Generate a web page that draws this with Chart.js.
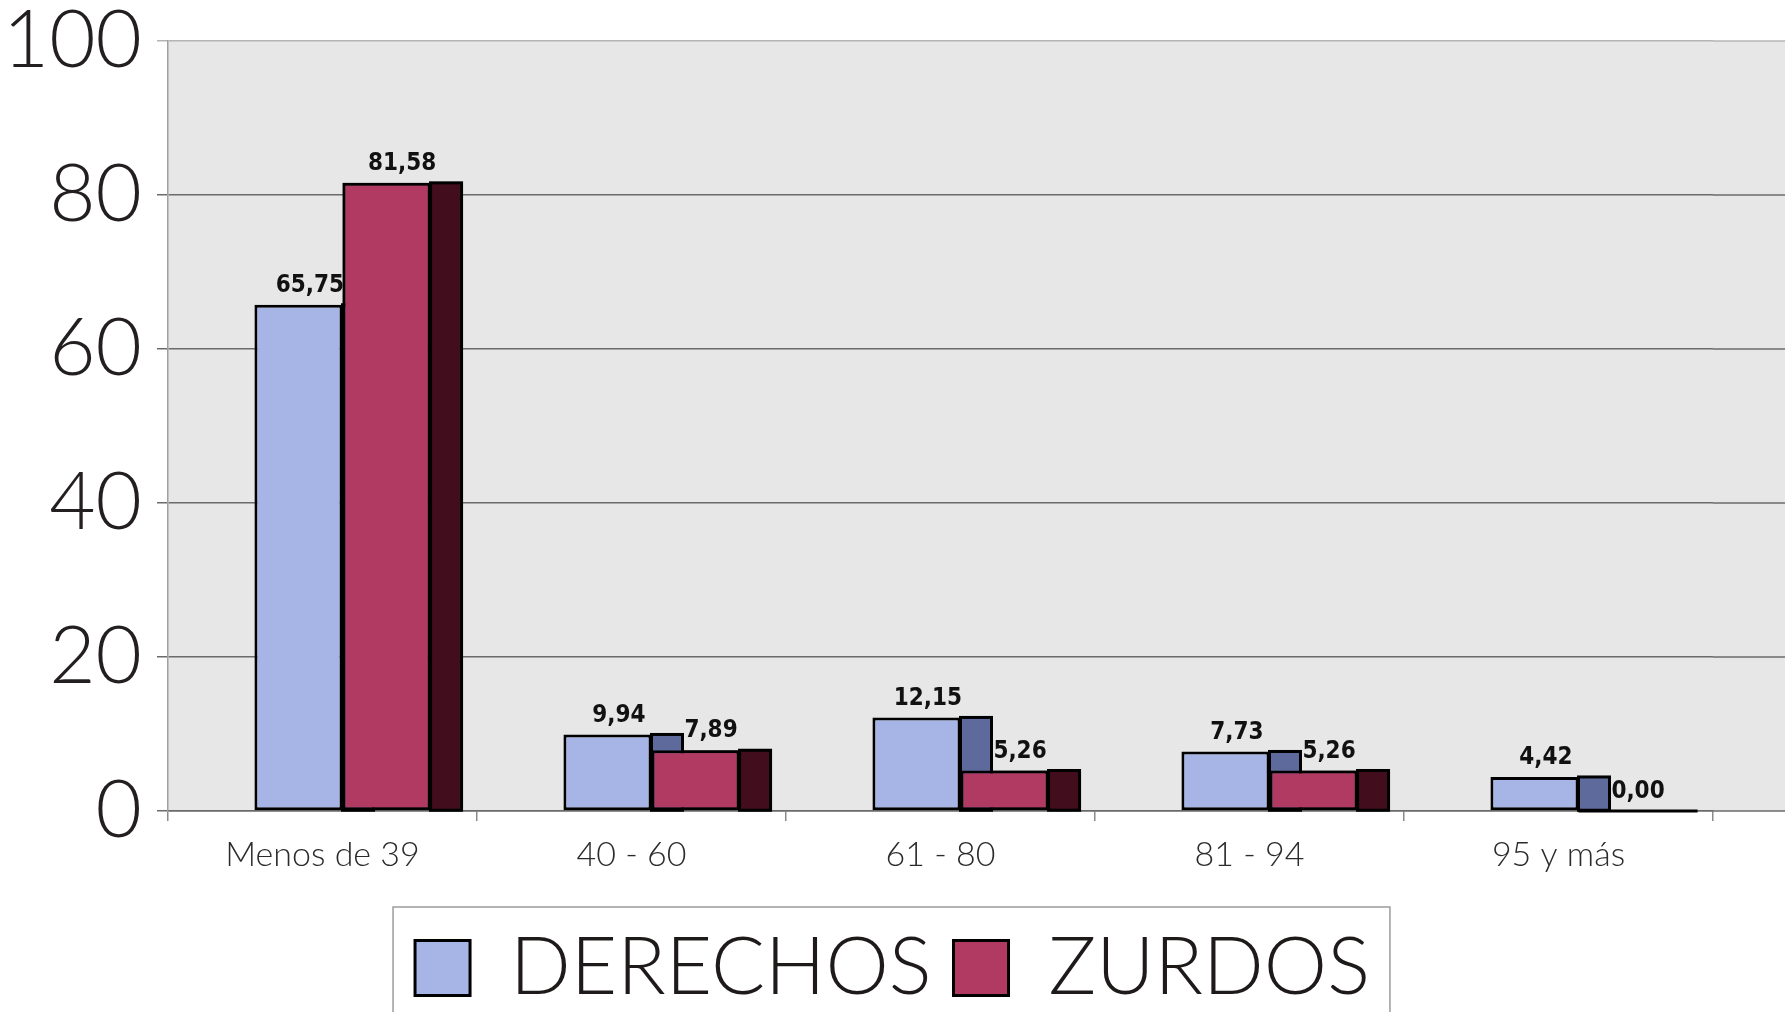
<!DOCTYPE html>
<html>
<head>
<meta charset="utf-8">
<script src="https://cdn.jsdelivr.net/npm/chart.js@4.4.1/dist/chart.umd.min.js"></script>
<style>
    html, body { margin: 0; padding: 0; background: #fff; overflow: hidden; }
    #wrap { width: 1785px; height: 1018px; }
</style>
</head>
<body>
<div id="wrap"><canvas id="edadChart"></canvas></div>
<script>
// Datos
const categories = ['Menos de 39', '40 - 60', '61 - 80', '81 - 94', '95 y más'];
const derechos = [65.75, 9.94, 12.15, 7.73, 4.42];
const zurdos = [81.58, 7.89, 5.26, 5.26, 0.00];
const yTicks = [0, 20, 40, 60, 80, 100];

const DEPTH = 31;   // ancho de la cara lateral (efecto 3D)
const SHIFT = 20;   // las barras van algo a la derecha del centro de la categoria

const fmt = v => v.toFixed(2).replace('.', ',');

// fondo gris y lineas de division que siguen hasta el borde derecho
const wallPlugin = {
    id: 'wall',
    beforeDraw(chart) {
        const { ctx, chartArea: a } = chart;
        ctx.save();
        ctx.fillStyle = '#e7e7e7';
        ctx.fillRect(a.left, a.top, chart.width - a.left, a.bottom - a.top);
        ctx.restore();
    },
    beforeDatasetsDraw(chart) {
        const { ctx, chartArea: a, scales: { y } } = chart;
        ctx.save();
        ctx.lineWidth = 1.5;
        yTicks.forEach(v => {
            const py = y.getPixelForValue(v);
            ctx.strokeStyle = v === 100 ? '#b4b4b4' : '#6b6b6b';
            ctx.beginPath();
            ctx.moveTo(a.right, py);
            ctx.lineTo(chart.width, py);
            ctx.stroke();
        });
        ctx.restore();
    }
};

function drawSides(ctx, meta, color) {
    ctx.save();
    ctx.fillStyle = color;
    ctx.strokeStyle = '#000';
    ctx.lineWidth = 3;
    meta.data.forEach(bar => {
        const { x, y, base, width } = bar.getProps(['x', 'y', 'base', 'width'], true);
        const right = x + width / 2;
        const h = base - y;
        if (h >= 1) {
            ctx.fillRect(right, y, DEPTH, h);
            ctx.strokeRect(right, y, DEPTH, h);
        } else {
            ctx.beginPath();
            ctx.moveTo(x - width / 2, base);
            ctx.lineTo(right + DEPTH, base);
            ctx.stroke();
        }
    });
    ctx.restore();
}

// caras laterales oscuras, etiquetas y recuadro de la leyenda
const barsPlugin = {
    id: 'bars3d',
    afterDatasetsUpdate(chart) {
        chart.data.datasets.forEach((ds, i) => {
            chart.getDatasetMeta(i).data.forEach(bar => { bar.x += SHIFT; });
        });
    },
    afterDatasetsDraw(chart) {
        const ctx = chart.ctx;
        // serie a serie, de izquierda a derecha, para que el frente tape la cara de la anterior
        chart.data.datasets.forEach((ds, i) => {
            const meta = chart.getDatasetMeta(i);
            if (i > 0) meta.data.forEach(bar => bar.draw(ctx));
            drawSides(ctx, meta, ds.sideColor);
        });

        ctx.save();
        ctx.fillStyle = '#111';
        ctx.font = "bold 24px 'DejaVu Sans Condensed', 'DejaVu Sans', sans-serif";
        ctx.textAlign = 'center';
        ctx.textBaseline = 'bottom';
        chart.data.datasets.forEach((ds, i) => {
            const dx = i === 0 ? DEPTH / 2 - 4 : DEPTH / 2;
            chart.getDatasetMeta(i).data.forEach((bar, j) => {
                ctx.fillText(fmt(ds.data[j]), bar.x + dx, bar.y - 7);
            });
        });
        ctx.restore();
    },
    afterDraw(chart) {
        const hb = chart.legend.legendHitBoxes;
        if (!hb || !hb.length) return;
        const ctx = chart.ctx;
        const last = hb[hb.length - 1];
        const left = hb[0].left - 22;
        const right = last.left + last.width + 20;
        const top = hb[0].top + hb[0].height / 2 - 61;
        ctx.save();
        ctx.strokeStyle = '#9c9c9c';
        ctx.lineWidth = 1.5;
        ctx.strokeRect(left, top, right - left, 200);
        ctx.restore();
    }
};

const ctx = document.getElementById('edadChart').getContext('2d');
new Chart(ctx, {
    type: 'bar',
    data: {
        labels: categories,
        datasets: [{
            label: 'DERECHOS',
            data: derechos,
            backgroundColor: '#a7b4e6',
            sideColor: '#5f6a9c',
            borderColor: '#000',
            borderWidth: 3,
            borderSkipped: false
        }, {
            label: 'ZURDOS',
            data: zurdos,
            backgroundColor: '#b03a62',
            sideColor: '#420d1c',
            borderColor: '#000',
            borderWidth: 3,
            borderSkipped: false
        }]
    },
    options: {
        responsive: true,
        maintainAspectRatio: false,
        animation: false,
        layout: { padding: { top: 41, right: 0, left: 0, bottom: 0 } },
        datasets: {
            bar: { categoryPercentage: 0.57, barPercentage: 1.0 }
        },
        plugins: {
            tooltip: { enabled: false },
            legend: {
                position: 'bottom',
                labels: {
                    boxWidth: 55,
                    boxHeight: 55,
                    padding: 22,
                    color: '#1e1a1a',
                    font: { family: 'Lato', size: 80, weight: 300 }
                }
            }
        },
        scales: {
            x: {
                afterFit: s => { s.height = 95; },
                grid: { drawOnChartArea: false, tickLength: 10, color: '#8a8a8a', lineWidth: 1.5 },
                border: { color: '#6b6b6b', width: 1.5 },
                ticks: {
                    padding: 14,
                    color: '#2b2b2b',
                    font: { family: 'Lato', size: 34, weight: 300 }
                }
            },
            y: {
                min: 0,
                max: 100,
                afterFit: s => { s.width = 168; },
                afterBuildTicks: s => { s.ticks = yTicks.map(v => ({ value: v })); },
                grid: {
                    tickLength: 11,
                    lineWidth: 1.5,
                    color: c => (c.tick && c.tick.value === 100 ? '#b4b4b4' : '#6b6b6b')
                },
                border: { color: '#a0a0a0', width: 1.5 },
                ticks: {
                    padding: 15,
                    color: '#231f20',
                    font: { family: 'Lato', size: 80, weight: 300, lineHeight: 0.6 }
                }
            },
            // franja vacia a la derecha: el fondo gris continua detras de ella
            margen: {
                type: 'linear',
                position: 'right',
                afterFit: s => { s.width = 72; },
                grid: { display: false },
                border: { display: false },
                ticks: { display: false }
            }
        }
    },
    plugins: [wallPlugin, barsPlugin]
});
</script>
</body>
</html>
